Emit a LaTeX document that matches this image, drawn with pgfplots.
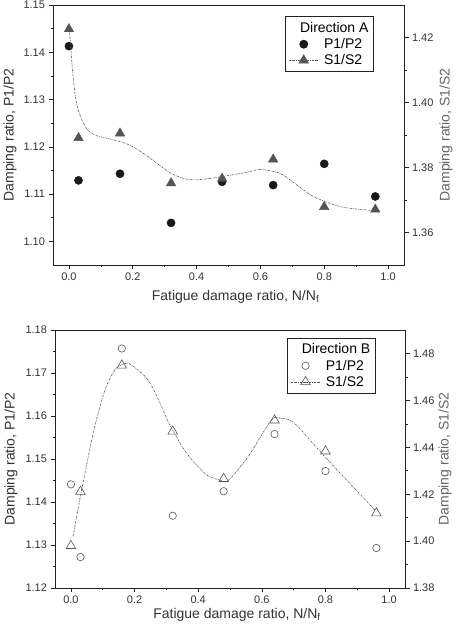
\documentclass[border=0pt]{standalone}
\usepackage{pgfplots}
\pgfplotsset{compat=1.18}
\usepackage{fontspec}
\setmainfont{Liberation Sans}
\definecolor{trig}{HTML}{555555}
\definecolor{axc}{HTML}{222222}
\definecolor{txt}{HTML}{333333}
\pgfplotsset{
  common/.style={
    scale only axis, anchor=south west,
    xmin=-0.05, xmax=1.05,
    tick align=outside,
    major tick length=4.5pt, minor tick length=2.5pt,
    every tick/.style={axc, line width=0.6pt},
    axis line style={axc, line width=0.7pt},
    /pgf/number format/assume math mode=true,
    ticklabel style={font=\fontsize{11}{13}\selectfont, text=txt},
    label style={font=\fontsize{14}{16}\selectfont},
    minor x tick num=1, minor y tick num=1,
    y tick label style={/pgf/number format/.cd, fixed, fixed zerofill, precision=2},
    x tick label style={/pgf/number format/.cd, fixed, fixed zerofill, precision=1},
  },
  leftax/.style 2 args={common, xtick={0,0.2,...,1.0}, xtick pos=bottom, ytick pos=left,
    ylabel={Damping ratio, P1/P2},
    xlabel={Fatigue damage ratio, N/N\textsubscript{f}},
    ylabel style={at={(axis description cs:#1,0.5)}, anchor=center, text=txt},
    xlabel style={at={(axis description cs:0.52,#2)}, anchor=center, text=txt},
  },
  rightax/.style={common, axis y line*=right, axis x line=none,
    ylabel={Damping ratio, S1/S2},
    ylabel style={at={(axis description cs:#1,0.5)}, anchor=center, text=black!60},
    legend image code/.code={\draw[mark repeat=2,mark phase=2,##1] plot coordinates {(0pt,0pt)(15pt,0pt)(30pt,0pt)};},
  },
  markleg/.style={legend image code/.code={\draw[mark repeat=2,mark phase=2,##1] plot coordinates {(0pt,0pt)(15pt,0pt)(30pt,0pt)};}},
  curve/.style={trig, line width=0.6pt, dash pattern=on 2pt off 1pt on 0.6pt off 1pt},
  legsty/.style={legend style={at={(#1)}, anchor=north east, draw=axc, line width=0.6pt,
    font=\fontsize{14}{15}\selectfont, inner xsep=3pt, inner ysep=3.5pt, row sep=0.5pt,
    /tikz/every odd column/.append style={column sep=3pt},
    cells={anchor=west}}},
}
\begin{document}
\begin{tikzpicture}
% ---------- Panel A ----------
\begin{axis}[leftax={-0.1225}{-0.123}, at={(53pt,359pt)}, width=351pt, height=260pt,
  ymin=1.095, ymax=1.15, ytick={1.10,1.11,...,1.151}]
\addplot[only marks, mark=*, mark size=4.1pt, black!90] coordinates {
(0,1.1413)(0.03,1.1129)(0.16,1.1143)(0.32,1.1039)(0.48,1.1126)(0.64,1.1119)(0.80,1.1164)(0.96,1.1095)};
\end{axis}
\begin{axis}[rightax=1.1197, at={(53pt,359pt)}, width=351pt, height=260pt,
  ymin=1.35, ymax=1.43, ytick={1.36,1.38,...,1.421},
  legsty={0.914,0.956}]
\addlegendimage{empty legend}
\addlegendentry{\hspace*{-24pt}Direction A}
\addlegendimage{only marks, mark=*, mark size=4.1pt, black!90, markleg}
\addlegendentry{P1/P2}
\addlegendimage{curve, mark=triangle*, mark size=5.5pt, mark options={solid, fill=trig, draw=trig}}
\addlegendentry{S1/S2}
\addplot[curve, smooth, forget plot] coordinates {
(0.002,1.4215)(0.0076,1.4144)(0.0126,1.4083)(0.023,1.4001)(0.039,1.3950)(0.060,1.3914)(0.086,1.3898)(0.128,1.3888)(0.181,1.3873)(0.228,1.3847)(0.28,1.3810)(0.32,1.3782)(0.36,1.3766)(0.40,1.3762)(0.475,1.3771)(0.56,1.3786)(0.60,1.3794)(0.663,1.3781)(0.72,1.3742)(0.769,1.3709)(0.853,1.3679)(0.947,1.3668)};
\addplot[only marks, mark=triangle*, mark size=5.5pt, trig, forget plot] coordinates {
(0,1.4226)(0.03,1.3891)(0.16,1.3905)(0.32,1.3752)(0.48,1.3766)(0.64,1.3825)(0.80,1.3679)(0.96,1.3671)};
\end{axis}
% ---------- Panel B ----------
\begin{axis}[leftax={-0.126}{-0.105}, at={(55pt,36pt)}, width=350pt, height=258pt,
  ymin=1.12, ymax=1.18, ytick={1.12,1.13,...,1.181}]
\addplot[only marks, mark=o, mark size=3.7pt, trig, line width=0.6pt] coordinates {
(0,1.1441)(0.03,1.1272)(0.16,1.1757)(0.32,1.1368)(0.48,1.1425)(0.64,1.1558)(0.80,1.1472)(0.96,1.1293)};
\end{axis}
\begin{axis}[rightax=1.114, at={(55pt,36pt)}, width=350pt, height=258pt,
  ymin=1.38, ymax=1.49, ytick={1.38,1.40,...,1.481},
  legsty={0.916,0.969}]
\addlegendimage{empty legend}
\addlegendentry{\hspace*{-24pt}Direction B}
\addlegendimage{only marks, mark=o, mark size=3.7pt, trig, line width=0.6pt, markleg}
\addlegendentry{P1/P2}
\addlegendimage{curve, mark=triangle, mark size=5.5pt, mark options={solid, draw=trig, line width=0.6pt}}
\addlegendentry{S1/S2}
\addplot[curve, smooth, forget plot] coordinates {
(0.007,1.402)(0.02,1.412)(0.044,1.4289)(0.075,1.4488)(0.107,1.4644)(0.138,1.4729)(0.17,1.4757)(0.191,1.4750)(0.243,1.4686)(0.285,1.4573)(0.311,1.4495)(0.364,1.4374)(0.427,1.4282)(0.468,1.4261)(0.494,1.4258)(0.557,1.4360)(0.63,1.4516)(0.661,1.4523)(0.703,1.4502)(0.798,1.4360)(0.955,1.4133)};
\addplot[only marks, mark=triangle, mark size=5.5pt, trig, line width=0.6pt, forget plot] coordinates {
(0,1.398)(0.03,1.4211)(0.16,1.4749)(0.32,1.4468)(0.48,1.4266)(0.64,1.4515)(0.80,1.4383)(0.96,1.4119)};
\end{axis}
\pgfresetboundingbox
\useasboundingbox (0,0) rectangle (458pt,624pt);
\end{tikzpicture}
\end{document}
